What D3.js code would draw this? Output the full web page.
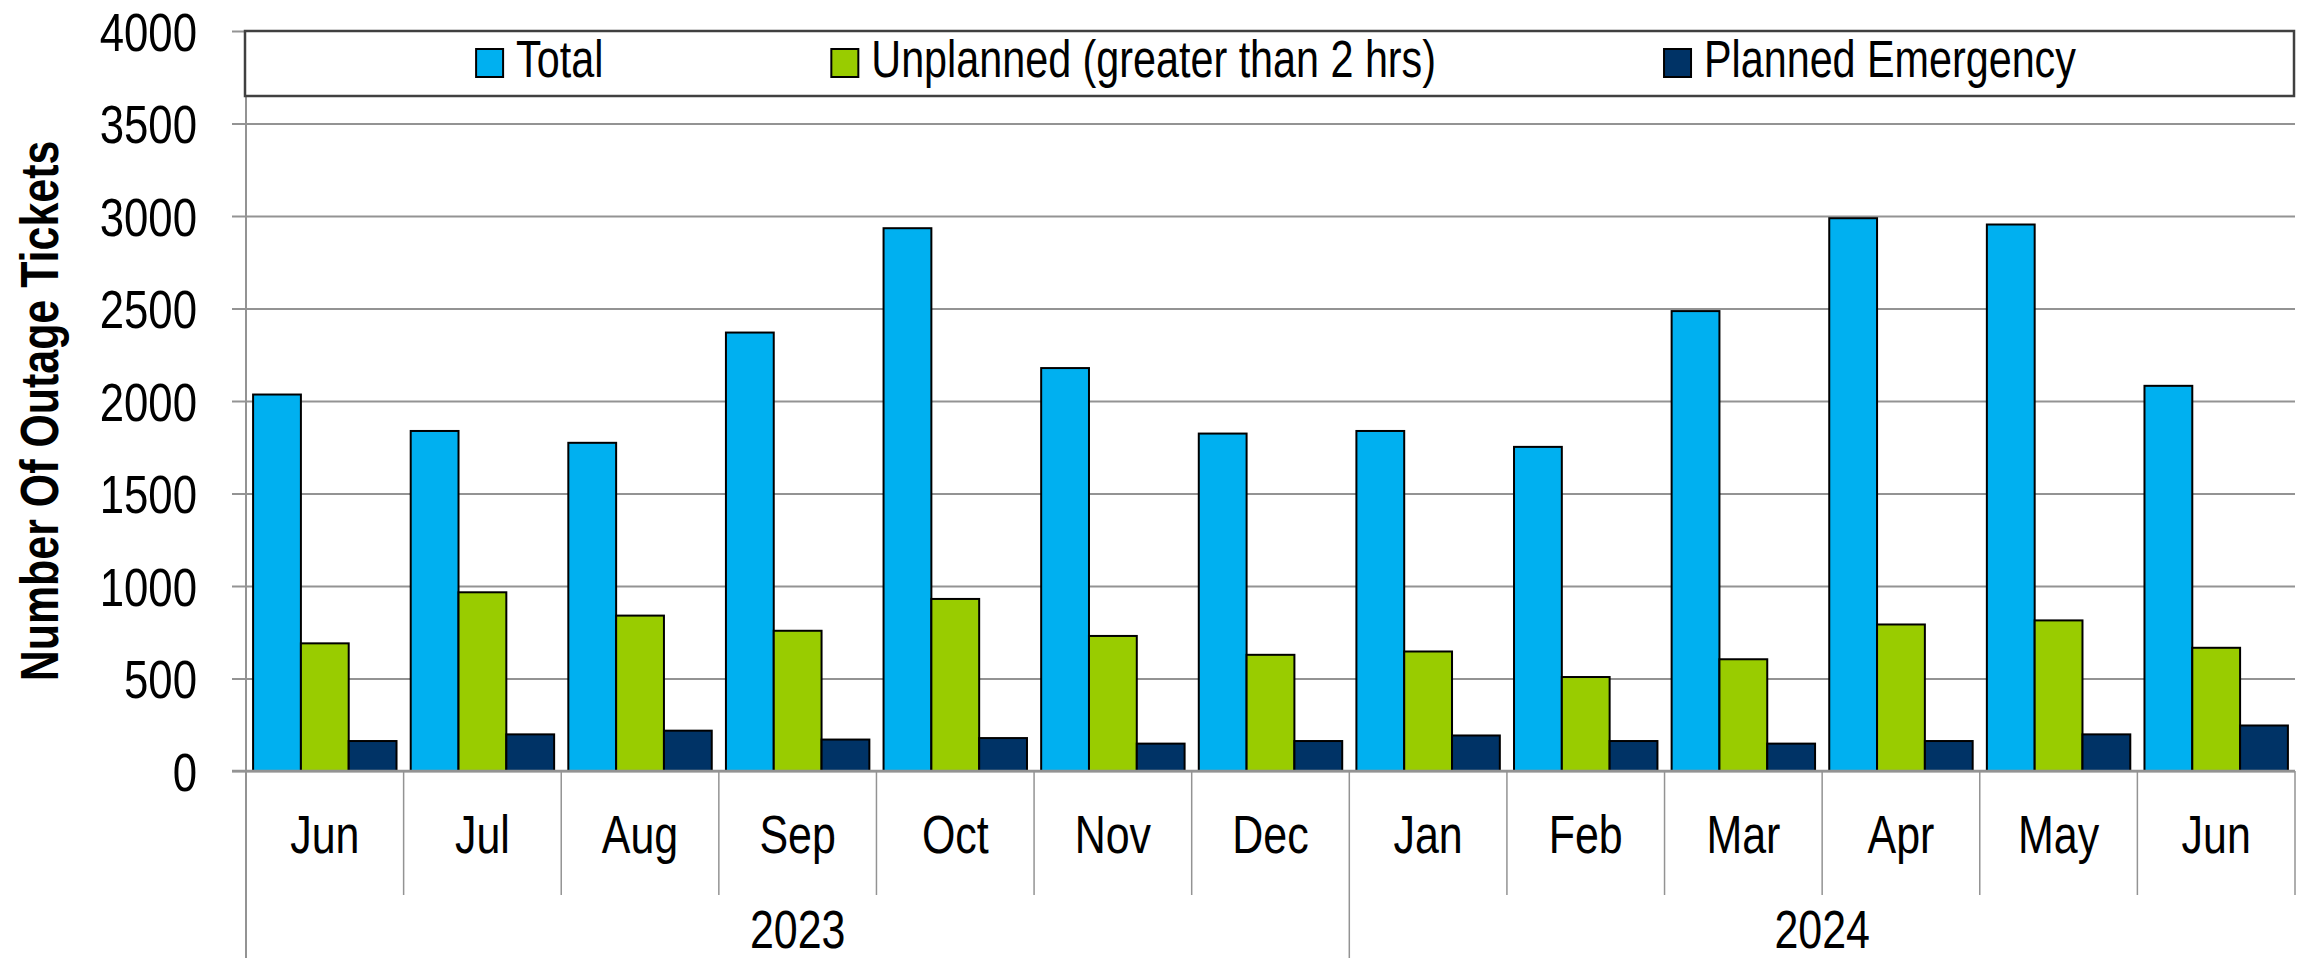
<!DOCTYPE html>
<html>
<head>
<meta charset="utf-8">
<script src="https://cdn.jsdelivr.net/npm/d3@7"></script>
<style>
  body { margin: 0; background: #fff; }
  text { font-family: "Liberation Sans", Arial, sans-serif; fill: #000; }
</style>
</head>
<body>
<svg id="chart"></svg>
<script>
// chart data
const months = ["Jun", "Jul", "Aug", "Sep", "Oct", "Nov", "Dec", "Jan", "Feb", "Mar", "Apr", "May", "Jun"];
const yearLabels = ["2023", "2024"];
const yearSpans = [7, 6];
const seriesNames = ["Total", "Unplanned (greater than 2 hrs)", "Planned Emergency"];
const total = [2035, 1838, 1774, 2370, 2934, 2178, 1824, 1838, 1752, 2486, 2988, 2954, 2082];
const unplanned = [690, 966, 840, 758, 930, 730, 628, 646, 508, 604, 792, 814, 666];
const planned = [162, 198, 218, 170, 178, 148, 162, 192, 162, 148, 162, 198, 246];
const yTicks = [0, 500, 1000, 1500, 2000, 2500, 3000, 3500, 4000];

const colors = ["#00B0F0", "#99CC00", "#003366"];
const series = [total, unplanned, planned];

const W = 2303, H = 958;
const plotLeft = 246, plotRight = 2295, plotTop = 31, plotBottom = 771;
const narrow = 0.81;   // squeeze Liberation Sans to a narrow face
const gridColor = "#939393";

const svg = d3.select("#chart")
    .attr("width", W)
    .attr("height", H);

const idx = d3.range(months.length);

const y = d3.scaleLinear().domain([0, 4000]).range([plotBottom, plotTop]);
const xCat = d3.scaleBand().domain(idx).range([plotLeft, plotRight]);
const x0 = d3.scaleBand().domain(idx).range([plotLeft, plotRight])
    .paddingInner(0.09).paddingOuter(0.045);
const x1 = d3.scaleBand().domain(d3.range(series.length)).range([0, x0.bandwidth()]);

// gridlines, ticks and tick labels
const yAxis = d3.axisLeft(y)
    .tickValues(yTicks)
    .tickFormat(d3.format("d"))
    .tickSize(-(plotRight - plotLeft + 14))
    .tickPadding(35);

const gy = svg.append("g")
    .attr("transform", `translate(${plotLeft - 14},0)`)
    .call(yAxis);
gy.select(".domain").remove();
gy.selectAll(".tick line")
    .attr("stroke", gridColor)
    .attr("stroke-width", 2);
gy.selectAll(".tick text")
    .attr("x", null)
    .attr("dy", "0.36em")
    .attr("transform", "translate(-35,0) scale(" + narrow + ",1)")
    .attr("font-size", 54)
    .style("fill", "#000");
gy.attr("font-family", null).attr("font-size", null);

// bars
svg.append("g")
  .selectAll("g")
  .data(idx)
  .join("g")
    .attr("transform", i => `translate(${x0(i)},0)`)
  .selectAll("rect")
  .data(i => series.map((s, k) => ({ k: k, v: s[i] })))
  .join("rect")
    .attr("x", d => x1(d.k))
    .attr("y", d => y(d.v))
    .attr("width", x1.bandwidth())
    .attr("height", d => y(0) - y(d.v))
    .attr("fill", d => colors[d.k])
    .attr("stroke", "#000")
    .attr("stroke-width", 2);

// value axis line and zero line
svg.append("line")
    .attr("x1", plotLeft).attr("x2", plotLeft)
    .attr("y1", plotTop).attr("y2", H)
    .attr("stroke", gridColor).attr("stroke-width", 2);
svg.append("line")
    .attr("x1", plotLeft - 14).attr("x2", plotRight)
    .attr("y1", y(0)).attr("y2", y(0))
    .attr("stroke", gridColor).attr("stroke-width", 2.5);

// category axis: month dividers, year dividers
const yearStarts = yearSpans.map((s, i) => d3.sum(yearSpans.slice(0, i)));
const dividers = d3.range(1, months.length + 1);
svg.append("g")
  .selectAll("line")
  .data(dividers)
  .join("line")
    .attr("x1", i => i < months.length ? xCat(i) : plotRight)
    .attr("x2", i => i < months.length ? xCat(i) : plotRight)
    .attr("y1", plotBottom)
    .attr("y2", i => yearStarts.includes(i) ? H : 895)
    .attr("stroke", gridColor)
    .attr("stroke-width", 1.5);

svg.append("g")
  .selectAll("text")
  .data(idx)
  .join("text")
    .attr("transform", i => `translate(${xCat(i) + xCat.bandwidth() / 2},853) scale(${narrow},1)`)
    .attr("text-anchor", "middle")
    .attr("font-size", 53)
    .text(i => months[i]);

svg.append("g")
  .selectAll("text")
  .data(yearLabels)
  .join("text")
    .attr("transform", (d, i) => {
        const a = xCat(yearStarts[i]);
        const b = i + 1 < yearStarts.length ? xCat(yearStarts[i + 1]) : plotRight;
        return `translate(${(a + b) / 2},948) scale(${narrow},1)`;
    })
    .attr("text-anchor", "middle")
    .attr("font-size", 53)
    .text(d => d);

// y axis title
svg.append("text")
    .attr("transform", `translate(58,411) rotate(-90) scale(${narrow},1)`)
    .attr("text-anchor", "middle")
    .attr("font-size", 53)
    .attr("font-weight", "bold")
    .text("Number Of Outage Tickets");

// legend
const legend = svg.append("g");
legend.append("rect")
    .attr("x", 245).attr("y", plotTop)
    .attr("width", plotRight - 1 - 245).attr("height", 65)
    .attr("fill", "#fff")
    .attr("stroke", "#404040")
    .attr("stroke-width", 2.5);

const items = legend.selectAll("g.item")
  .data(seriesNames)
  .join("g")
    .attr("class", "item");
items.append("rect")
    .attr("x", 0).attr("y", 49)
    .attr("width", 27).attr("height", 28)
    .attr("fill", (d, i) => colors[i])
    .attr("stroke", "#000")
    .attr("stroke-width", 2);
items.append("text")
    .attr("transform", `translate(40,77) scale(${narrow},1)`)
    .attr("font-size", 51)
    .text(d => d);

const widths = [];
items.each(function () {
    widths.push(40 + d3.select(this).select("text").node().getComputedTextLength() * narrow);
});
const gap = 228;
const span = d3.sum(widths) + gap * (widths.length - 1);
let cx = (245 + plotRight) / 2 + 6 - span / 2;
items.attr("transform", (d, i) => {
    const t = `translate(${cx},0)`;
    cx += widths[i] + gap;
    return t;
});
</script>
</body>
</html>
